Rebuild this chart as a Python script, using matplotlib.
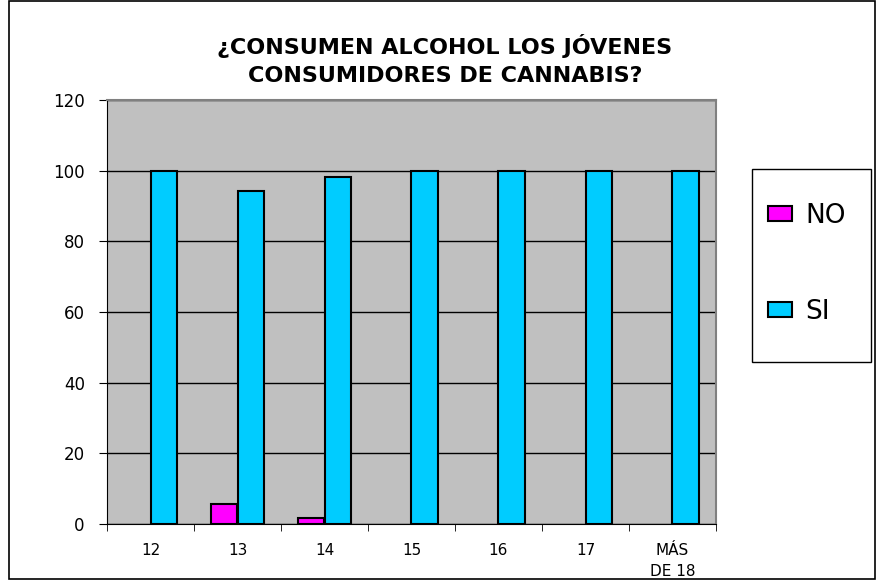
import matplotlib
matplotlib.use("Agg")
import matplotlib.pyplot as plt
from matplotlib.patches import Rectangle, Patch
import numpy as np

categories = ["12", "13", "14", "15", "16", "17", "MÁS\nDE 18"]
no_vals = [0, 5.7, 1.7, 0, 0, 0, 0]
si_vals = [100, 94.3, 98.3, 100, 100, 100, 100]
yticks = [0, 20, 40, 60, 80, 100, 120]

no_color = "#FF00FF"
si_color = "#00CCFF"

plt.rcParams['font.family'] = ['DejaVu Sans']

fig = plt.figure(figsize=(8.77, 5.80), dpi=100)
ax = fig.add_axes([107/877, 1-524/580, 609/877, 424/580])
ax.set_facecolor("#C0C0C0")

x = np.arange(len(categories))
w = 0.3
b_no = ax.bar(x - w/2, no_vals, w, color=no_color, edgecolor="black", linewidth=1.5, zorder=3)
b_si = ax.bar(x + w/2, si_vals, w, color=si_color, edgecolor="black", linewidth=1.5, zorder=3)
for bars, vals in ((b_no, no_vals), (b_si, si_vals)):
    for bar, v in zip(bars, vals):
        if v == 0:
            bar.set_visible(False)

ax.set_xlim(-0.5, len(categories) - 0.5)
ax.set_ylim(0, 120)
ax.set_yticks(yticks)
ax.set_yticklabels([str(v) for v in yticks], fontsize=12)
ax.yaxis.grid(True, color="black", linewidth=1, zorder=1)
ax.set_axisbelow(True)

ax.set_xticks(x)
ax.set_xticklabels(categories, fontsize=11, linespacing=1.5)
ax.tick_params(axis='x', length=0, pad=14)
ax.set_xticks(np.arange(len(categories)+1) - 0.5, minor=True)
ax.tick_params(axis='x', which='minor', length=5, direction='out', color='black')
ax.tick_params(axis='y', length=6, direction='out', pad=10)

for s in ["top", "right"]:
    ax.spines[s].set_color("#808080")
    ax.spines[s].set_linewidth(1.5)
ax.spines["left"].set_color("black")
ax.spines["bottom"].set_color("black")

fig.text(0.5*(120+770)/877, 1-60/580, "¿CONSUMEN ALCOHOL LOS JÓVENES\nCONSUMIDORES DE CANNABIS?",
         ha="center", va="center", fontsize=16, fontweight="bold", linespacing=1.5)

# legend box
fig.patches.append(Rectangle((752/877, 1-362/580), 119/877, 193/580, transform=fig.transFigure,
                             fill=True, facecolor="white", edgecolor="black", linewidth=1))
handles = [Patch(facecolor=no_color, edgecolor="black", linewidth=1.5, label="NO"),
           Patch(facecolor=si_color, edgecolor="black", linewidth=1.5, label="SI")]
leg = fig.legend(handles=handles, loc="upper left", bbox_to_anchor=(768/877, 1-203/580),
                 fontsize=19, frameon=False,
                 labelspacing=2.65, handlelength=0.9, handleheight=0.5, handletextpad=0.5,
                 borderpad=0, borderaxespad=0)

fig.patches.append(Rectangle((9/877, 0.002), 1-9/877-0.002, 0.996, transform=fig.transFigure,
                             fill=False, edgecolor="black", linewidth=1.2))

fig.savefig("out.png", dpi=100)
